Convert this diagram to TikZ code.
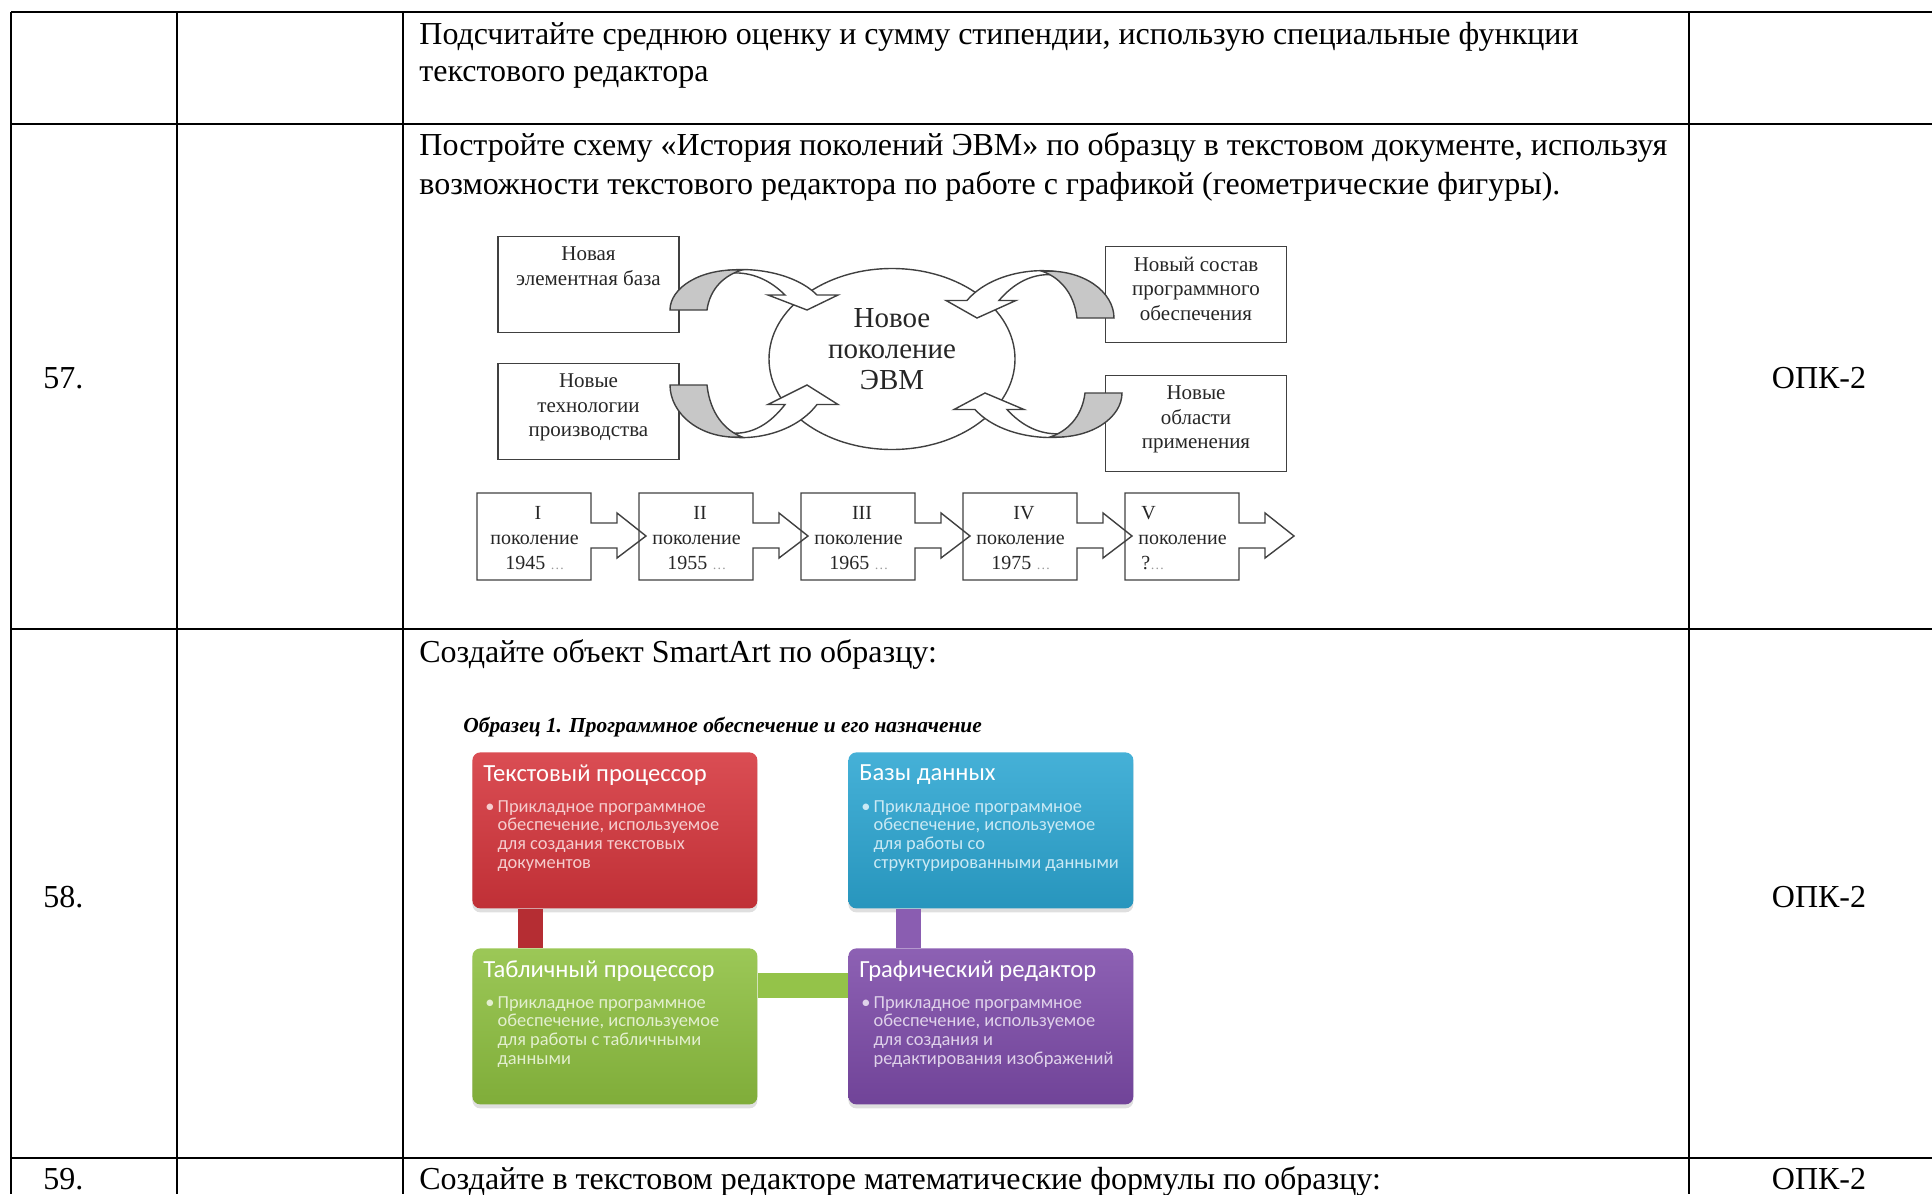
\documentclass[tikz,border=0pt]{standalone}
\usepackage{fontspec}
\setmainfont{Liberation Serif}
\newfontfamily\smartfont{Carlito}
\usetikzlibrary{positioning}
\usetikzlibrary{calc}
\usetikzlibrary{shapes.geometric}
\usetikzlibrary{shadows}
\colorlet{myline}{black!75}
\colorlet{mygray}{black!22}
\definecolor{tpred}{HTML}{D5353C}
\definecolor{bdblue}{HTML}{2CA6D2}
\definecolor{tblgreen}{HTML}{8EC040}
\definecolor{grpurple}{HTML}{7D4BA9}
\tikzstyle{cellline}=[black,line width=1pt]
\tikzstyle{celltext}=[inner sep=0pt,anchor=base west,font=\fontsize{16}{20}\selectfont]
\tikzstyle{oldbox}=[draw=myline,line width=0.8pt,minimum width=90.5pt,minimum height=48pt,inner sep=0pt]
\tikzstyle{oldtext}=[inner sep=0pt,align=center,text=black!85,font=\fontsize{10.5}{12.25}\selectfont]
\tikzstyle{circtext}=[inner sep=0pt,align=center,text=black!85,font=\fontsize{14.5}{15.5}\selectfont]
\tikzstyle{genline}=[draw=myline,line width=0.7pt,line join=miter]
\tikzstyle{gentext}=[inner sep=0pt,text=black!85,font=\fontsize{10}{12}\selectfont]
\tikzstyle{smartbox}=[rounded corners=4pt,top color=#1!88!white,bottom color=#1!90!black,
                      minimum width=142.5pt,minimum height=78pt,inner sep=0pt,
                      drop shadow={shadow xshift=0pt,shadow yshift=-2pt,opacity=0.25}]
\tikzstyle{smarttitle}=[inner sep=0pt,anchor=west,text=white,font=\smartfont\fontsize{12.3}{13}\selectfont]
\tikzstyle{smarttext}=[inner sep=0pt,anchor=north west,align=left,text=#1!25!white,
                       font=\smartfont\fontsize{9.2}{9.3}\selectfont]
\tikzstyle{smartbar}=[#1,line width=12.5pt]

% curved two-tone arrow: origin at outer foot, x/y flip
\newcommand{\curvarrow}[3]{%
  \begin{scope}[shift={#1},xscale=#2,yscale=#3]
    \filldraw[fill=white,draw=myline,line width=0.7pt]
      (50,-38) .. controls (72,-44) and (122,-40) .. (147,-15) -- (168,-15) -- (137,0)
      -- (98,-15) -- (115,-15) .. controls (100,-30) and (82,-38) .. (62,-37) -- cycle;
    \filldraw[fill=mygray,draw=myline,line width=0.7pt]
      (0,0) .. controls (0,-22) and (30,-42) .. (72,-40)
      .. controls (55,-35) and (40,-22) .. (37,0) -- cycle;
  \end{scope}}

\begin{document}
\begin{tikzpicture}[x=0.5pt,y=-0.5pt]
  \useasboundingbox (0,0) rectangle (1932,1194);

  % table
  \draw[cellline] (11,12) -- (1932,12);
  \foreach \y in {124,629,1158} \draw[cellline] (11,\y) -- (1932,\y);
  \foreach \x in {11,177,403,1689} \draw[cellline] (\x,12) -- (\x,1194);

  \node[celltext] (t56a) at (419,44) {Подсчитайте среднюю оценку и сумму стипендии, использую специальные функции};
  \node[celltext] (t56b) at (419,81) {текстового редактора};
  \node[celltext] (t57a) at (419,155) {Постройте схему «История поколений ЭВМ» по образцу в текстовом документе, используя};
  \node[celltext] (t57b) at (419,194) {возможности текстового редактора по работе с графикой (геометрические фигуры).};
  \node[celltext] (n57) at (43,388) {57.};
  \node[celltext,anchor=base] (k57) at (1819,388) {ОПК-2};
  \node[celltext] (t58) at (419,662) {Создайте объект SmartArt по образцу:};
  \node[celltext] (n58) at (43,907) {58.};
  \node[celltext,anchor=base] (k58) at (1819,907) {ОПК-2};
  \node[celltext] (t59) at (419,1189) {Создайте в текстовом редакторе математические формулы по образцу:};
  \node[celltext] (n59) at (43,1189) {59.};
  \node[celltext,anchor=base] (k59) at (1819,1189) {ОПК-2};

  % generations scheme
  \node[oldbox] (elb) at (588.5,284.5) {};
  \node[oldtext,below=5.5pt of elb.north] (elbt) {Новая\\элементная база};
  \node[oldbox] (tech) at (588.5,411.5) {};
  \node[oldtext,below=5.5pt of tech.north] (techt) {Новые\\технологии\\производства};
  \node[oldbox] (soft) at (1196,294.5) {};
  \node[oldtext,below=5.5pt of soft.north] (softt) {Новый состав\\программного\\обеспечения};
  \node[oldbox] (area) at (1196,423.5) {};
  \node[oldtext,below=5.5pt of area.north] (areat) {Новые\\области\\применения};

  \node[ellipse,draw=myline,line width=0.7pt,minimum width=123pt,minimum height=90.5pt,inner sep=0pt] (evm) at (892,359) {};
  \node[circtext] (evmt) at (892,349) {Новое\\поколение\\ЭВМ};

  \curvarrow{(670,310)}{1}{1}
  \curvarrow{(670,385)}{1}{-1.3}
  \curvarrow{(1114,318)}{-1}{1.17}
  \curvarrow{(1122,393)}{-1}{-1.1}

  \foreach \x/\rn/\yr [count=\i] in {477/I/1945,639/II/1955,801/III/1965,963/IV/1975}{
    \draw[genline] (\x,493) -- ++(114,0) -- ++(0,30) -- ++(26,0) -- ++(0,-10) -- ++(29,23)
      -- ++(-29,22) -- ++(0,-10) -- ++(-26,0) -- ++(0,32) -- ++(-114,0) -- cycle;
    \node[gentext] (rn\i) at (\x+61,513) {\rn};
    \node[gentext,anchor=west] (pk\i) at (\x+13,540) {поколение};
    \node[gentext,anchor=west] (yr\i) at (\x+28,563) {\yr\ {\color{black!40}\fontsize{7}{8}\selectfont …}};
  }
  \draw[genline] (1125,493) -- ++(114,0) -- ++(0,30) -- ++(26,0) -- ++(0,-10) -- ++(29,23)
    -- ++(-29,22) -- ++(0,-10) -- ++(-26,0) -- ++(0,32) -- ++(-114,0) -- cycle;
  \node[gentext,anchor=west] (rn5) at (1141,513) {V};
  \node[gentext,anchor=west] (pk5) at (1138,540) {поколение};
  \node[gentext,anchor=west] (yr5) at (1141,563) {?{\color{black!40}\fontsize{7}{8}\selectfont …}};

  % smartart
  \node[inner sep=0pt,anchor=west,font=\bfseries\itshape\fontsize{10.7}{12}\selectfont] (sample) at (463,727)
    {Образец 1. Программное обеспечение и его назначение};

  \node[smartbox=tpred,anchor=north west] (tp) at (472,752) {};
  \node[smartbox=bdblue,anchor=north west] (bd) at (848,752) {};
  \node[smartbox=tblgreen,anchor=north west] (tbl) at (472,948) {};
  \node[smartbox=grpurple,anchor=north west] (gr) at (848,948) {};

  \draw[smartbar=tpred!85!black] ($(tp.south west)+(58,0)$) -- ($(tbl.north west)+(58,0)$);
  \draw[smartbar=grpurple!90!white] ($(bd.south west)+(60,0)$) -- ($(gr.north west)+(60,0)$);
  \draw[smartbar=tblgreen!95!white] ($(tbl.north east)+(0,37)$) -- ($(gr.north west)+(0,37)$);

  \node[smarttitle] (tpt) at ($(tp.north west)+(11,23)$) {Текстовый процессор};
  \node[smarttext=tpred] (tpb) at ($(tp.north west)+(13,48)$)
    {•\,Прикладное программное\\\hphantom{•\,}обеспечение, используемое\\\hphantom{•\,}для создания текстовых\\\hphantom{•\,}документов};
  \node[smarttitle] (bdt) at ($(bd.north west)+(11,23)$) {Базы данных};
  \node[smarttext=bdblue] (bdb) at ($(bd.north west)+(13,48)$)
    {•\,Прикладное программное\\\hphantom{•\,}обеспечение, используемое\\\hphantom{•\,}для работы со\\\hphantom{•\,}структурированными данными};
  \node[smarttitle] (tblt) at ($(tbl.north west)+(11,23)$) {Табличный процессор};
  \node[smarttext=tblgreen] (tblb) at ($(tbl.north west)+(13,48)$)
    {•\,Прикладное программное\\\hphantom{•\,}обеспечение, используемое\\\hphantom{•\,}для работы с табличными\\\hphantom{•\,}данными};
  \node[smarttitle] (grt) at ($(gr.north west)+(11,23)$) {Графический редактор};
  \node[smarttext=grpurple] (grb) at ($(gr.north west)+(13,48)$)
    {•\,Прикладное программное\\\hphantom{•\,}обеспечение, используемое\\\hphantom{•\,}для создания и\\\hphantom{•\,}редактирования изображений};
\end{tikzpicture}
\end{document}
